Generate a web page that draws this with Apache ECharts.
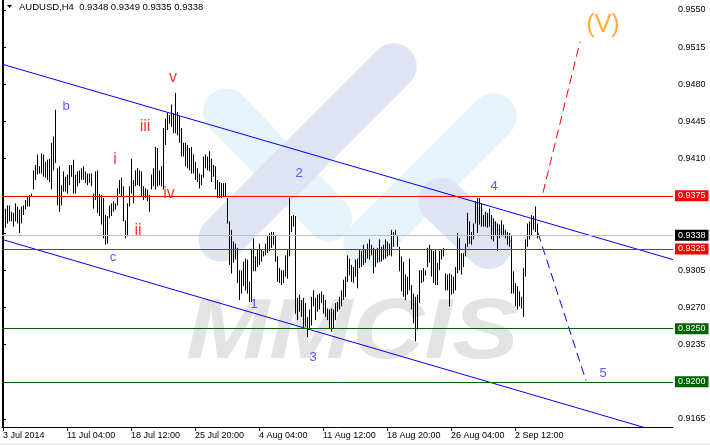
<!DOCTYPE html>
<html><head><meta charset="utf-8">
<script src="https://cdn.jsdelivr.net/npm/echarts@6/dist/echarts.min.js"></script>
<style>html,body{margin:0;padding:0;background:#fff}#c{width:710px;height:445px}</style>
</head><body><div id="c"></div>
<script>
const symbolName = 'AUDUSD,H4';
const lastBar = [0.9348, 0.9349, 0.9335, 0.9338]; // open, high, low, close

const highs = [
0.9359,0.9363,0.9366,0.9366,0.9360,0.9359,0.9368,0.9365,0.9362,0.9365,
0.9366,0.9371,0.9374,0.9376,0.9377,0.9399,0.9404,0.9414,0.9403,0.9415,
0.9414,0.9407,0.9409,0.9410,0.9425,0.9431,0.9456,0.9401,0.9403,0.9385,
0.9398,0.9393,0.9395,0.9404,0.9404,0.9409,0.9395,0.9398,0.9399,0.9401,
0.9403,0.9398,0.9396,0.9396,0.9396,0.9377,0.9398,0.9399,0.9377,0.9376,
0.9373,0.9357,0.9356,0.9366,0.9368,0.9370,0.9368,0.9382,0.9390,0.9392,
0.9384,0.9352,0.9368,0.9384,0.9410,0.9390,0.9399,0.9401,0.9399,0.9398,
0.9384,0.9382,0.9381,0.9376,0.9395,0.9401,0.9421,0.9420,0.9399,0.9403,
0.9439,0.9448,0.9453,0.9451,0.9461,0.9453,0.9472,0.9454,0.9450,0.9439,
0.9425,0.9425,0.9423,0.9420,0.9421,0.9414,0.9407,0.9401,0.9396,0.9395,
0.9412,0.9414,0.9412,0.9417,0.9410,0.9404,0.9403,0.9390,0.9388,0.9387,
0.9387,0.9387,0.9373,0.9351,0.9343,0.9332,0.9330,0.9326,0.9305,0.9305,
0.9313,0.9316,0.9315,0.9294,0.9324,0.9335,0.9318,0.9324,0.9330,0.9324,
0.9323,0.9330,0.9337,0.9340,0.9341,0.9341,0.9338,0.9318,0.9307,0.9305,
0.9305,0.9319,0.9324,0.9373,0.9356,0.9357,0.9356,0.9279,0.9282,0.9277,
0.9279,0.9274,0.9261,0.9268,0.9280,0.9286,0.9279,0.9282,0.9283,0.9285,
0.9282,0.9277,0.9269,0.9268,0.9269,0.9268,0.9274,0.9275,0.9280,0.9286,
0.9296,0.9299,0.9319,0.9316,0.9310,0.9308,0.9315,0.9316,0.9324,0.9323,
0.9329,0.9324,0.9330,0.9334,0.9329,0.9326,0.9324,0.9326,0.9334,0.9327,
0.9329,0.9334,0.9332,0.9330,0.9343,0.9341,0.9343,0.9337,0.9327,0.9318,
0.9313,0.9301,0.9299,0.9316,0.9291,0.9283,0.9280,0.9282,0.9305,0.9305,
0.9307,0.9305,0.9326,0.9329,0.9324,0.9323,0.9324,0.9312,0.9323,0.9324,
0.9326,0.9302,0.9301,0.9302,0.9301,0.9299,0.9308,0.9340,0.9335,0.9321,
0.9321,0.9330,0.9359,0.9351,0.9341,0.9349,0.9370,0.9373,0.9373,0.9368,
0.9357,0.9360,0.9359,0.9363,0.9357,0.9354,0.9351,0.9349,0.9348,0.9352,
0.9348,0.9343,0.9341,0.9340,0.9337,0.9304,0.9293,0.9290,0.9285,0.9280,
0.9307,0.9334,0.9349,0.9351,0.9357,0.9356,0.9365,0.9349
];
const lows = [
0.9345,0.9345,0.9349,0.9351,0.9351,0.9346,0.9351,0.9349,0.9340,0.9349,
0.9357,0.9362,0.9365,0.9365,0.9374,0.9381,0.9390,0.9395,0.9396,0.9396,
0.9393,0.9392,0.9390,0.9388,0.9381,0.9399,0.9406,0.9366,0.9360,0.9366,
0.9379,0.9379,0.9377,0.9385,0.9393,0.9377,0.9377,0.9384,0.9387,0.9390,
0.9390,0.9387,0.9385,0.9387,0.9384,0.9363,0.9371,0.9359,0.9356,0.9348,
0.9335,0.9329,0.9330,0.9354,0.9356,0.9360,0.9362,0.9366,0.9377,0.9374,
0.9351,0.9335,0.9337,0.9365,0.9377,0.9368,0.9384,0.9385,0.9384,0.9374,
0.9371,0.9373,0.9370,0.9360,0.9381,0.9384,0.9381,0.9384,0.9385,0.9384,
0.9381,0.9423,0.9437,0.9443,0.9440,0.9434,0.9434,0.9432,0.9425,0.9412,
0.9412,0.9403,0.9401,0.9399,0.9396,0.9396,0.9390,0.9388,0.9382,0.9385,
0.9392,0.9401,0.9399,0.9398,0.9388,0.9393,0.9381,0.9373,0.9373,0.9373,
0.9374,0.9374,0.9349,0.9310,0.9302,0.9312,0.9315,0.9293,0.9277,0.9283,
0.9290,0.9286,0.9283,0.9275,0.9275,0.9304,0.9304,0.9308,0.9310,0.9313,
0.9318,0.9319,0.9321,0.9323,0.9326,0.9329,0.9313,0.9294,0.9293,0.9291,
0.9293,0.9299,0.9297,0.9318,0.9341,0.9346,0.9264,0.9258,0.9266,0.9261,
0.9250,0.9252,0.9242,0.9249,0.9253,0.9271,0.9258,0.9266,0.9268,0.9274,
0.9264,0.9261,0.9258,0.9250,0.9247,0.9250,0.9258,0.9266,0.9268,0.9271,
0.9277,0.9280,0.9294,0.9300,0.9294,0.9293,0.9299,0.9288,0.9307,0.9308,
0.9310,0.9312,0.9316,0.9315,0.9319,0.9302,0.9308,0.9312,0.9313,0.9313,
0.9315,0.9316,0.9318,0.9319,0.9318,0.9327,0.9337,0.9327,0.9304,0.9285,
0.9280,0.9277,0.9282,0.9286,0.9268,0.9255,0.9238,0.9249,0.9274,0.9293,
0.9294,0.9300,0.9308,0.9312,0.9299,0.9293,0.9291,0.9291,0.9305,0.9315,
0.9318,0.9286,0.9286,0.9271,0.9282,0.9283,0.9286,0.9302,0.9305,0.9301,
0.9308,0.9318,0.9327,0.9330,0.9329,0.9334,0.9349,0.9340,0.9348,0.9346,
0.9346,0.9346,0.9345,0.9346,0.9334,0.9332,0.9338,0.9323,0.9335,0.9337,
0.9337,0.9335,0.9329,0.9327,0.9283,0.9283,0.9271,0.9268,0.9271,0.9269,
0.9261,0.9299,0.9327,0.9334,0.9337,0.9343,0.9341,0.9335
];

const timeTickBars = [0, 32, 64, 96, 128, 160, 192, 224, 256];
const timeTickLabels = ['3 Jul 2014', '11 Jul 04:00', '18 Jul 12:00', '25 Jul 20:00', '4 Aug 04:00', '11 Aug 12:00', '18 Aug 20:00', '26 Aug 04:00', '2 Sep 12:00'];
const priceTicks = [0.9165, 0.9200, 0.9235, 0.9270, 0.9305, 0.9340, 0.9375, 0.9410, 0.9445, 0.9480, 0.9515, 0.9550];
const priceLabelsShown = [0.9165, 0.9235, 0.9270, 0.9305, 0.9410, 0.9445, 0.9480, 0.9515, 0.9550];

const resistanceLevels = [0.9375, 0.9325];
const supportLevels = [0.9250, 0.9200];
const bidLevel = 0.9338;

const channelUpper = [[-0.5, 0.9499], [335, 0.9315]];
const channelLower = [[-0.5, 0.9334], [335, 0.9149]];
const projectionUp = [[270, 0.9378], [288.5, 0.9520]];
const projectionDown = [[267.5, 0.9340], [291.5, 0.9201]];

const subWaveLabels = [[56, 0.9409, 'i'], [67.5, 0.9342, 'ii'], [71, 0.9440, 'iii'], [83, 0.9377, 'iv'], [85, 0.9486, 'v']];
const waveLabels = [[31.5, 0.9459, 'b'], [55, 0.9317, 'c'], [125.5, 0.9273, '1'], [148, 0.9396, '2'], [155, 0.9223, '3'], [245.5, 0.9384, '4'], [300, 0.9208, '5']];
const majorWaveLabels = [[300, 0.9536, '(V)']];

const FONT = '"Liberation Sans", Arial, sans-serif';
const chart = echarts.init(document.getElementById('c'), null, {renderer: 'canvas'});

function band(x1, y1, x2, y2, w, color) {
  const dx = x2 - x1, dy = y2 - y1;
  const L = Math.sqrt(dx * dx + dy * dy);
  return {
    type: 'rect', x: (x1 + x2) / 2, y: (y1 + y2) / 2, rotation: -Math.atan2(dy, dx),
    shape: {x: -L / 2, y: -w / 2, width: L, height: w, r: w / 2},
    style: {fill: color}, z: -5, silent: true
  };
}
const LB = '#e6f3fb', LV = '#dfe4f5';

const barData = highs.map((h, i) => [i, h, lows[i]]);

function labelSeries(name, data, color, size) {
  return {
    type: 'scatter', name, data, symbolSize: 1, silent: true,
    itemStyle: {color: 'rgba(0,0,0,0)'},
    label: {show: true, position: 'inside', formatter: p => p.data[2], color, fontSize: size, fontFamily: FONT},
    z: 6
  };
}

function levelLine(v, lineColor, boxColor) {
  return {
    yAxis: v,
    lineStyle: {color: lineColor, width: 1, type: 'solid'},
    label: {show: true, position: 'end', distance: 2, formatter: p => Number(p.value).toFixed(4),
      color: '#fff', backgroundColor: boxColor, padding: [1, 3, 0, 3], fontSize: 9, lineHeight: 10, fontFamily: FONT}
  };
}

const option = {
  animation: false,
  backgroundColor: '#fff',
  graphic: [
    band(210, 95, 345, 235, 46, LB),
    band(510, 100, 350, 260, 46, LB),
    band(205, 255, 410, 50, 46, LV),
    band(425, 185, 505, 262, 46, LV),
    {type: 'text', x: 186, y: 334, scaleX: 1.16, z: -4, silent: true,
      style: {text: 'MMCIS', font: 'italic bold 86px ' + FONT, fill: '#e3e3e3', textVerticalAlign: 'middle'}},
    {type: 'polygon', shape: {points: [[7, 5], [12, 5], [9.5, 8]]}, style: {fill: '#000'}},
    {type: 'text', x: 19, y: 7, style: {text: symbolName + '  ' + lastBar.map(v => v.toFixed(4)).join(' '),
      font: '9.5px ' + FONT, fill: '#000', textVerticalAlign: 'middle'}},
    {type: 'rect', shape: {x: 0, y: 443, width: 710, height: 2}, style: {fill: '#f0f0f0'}}
  ],
  grid: {left: 2, right: 37, top: 0, bottom: 18, containLabel: false},
  xAxis: {
    type: 'value', min: -0.5, max: 335,
    axisLine: {show: true, lineStyle: {color: '#000', width: 1}},
    axisTick: {show: true, customValues: timeTickBars, length: 4, lineStyle: {color: '#000'}},
    axisLabel: {customValues: timeTickBars, formatter: v => timeTickLabels[timeTickBars.indexOf(v)],
      align: 'left', margin: 4, fontSize: 9, color: '#000', fontFamily: FONT},
    splitLine: {show: false}
  },
  yAxis: [{
    type: 'value', position: 'right', min: 0.91574, max: 0.95594, scale: true,
    axisLine: {show: true, lineStyle: {color: '#000', width: 1}},
    axisTick: {show: true, customValues: priceTicks, length: 3, lineStyle: {color: '#000'}},
    axisLabel: {customValues: priceLabelsShown, formatter: v => v.toFixed(4), margin: 5, fontSize: 9, color: '#000', fontFamily: FONT},
    splitLine: {show: false}
  }, {
    type: 'value', position: 'left', min: 0.91574, max: 0.95594, scale: true,
    axisLine: {show: true, lineStyle: {color: '#000', width: 1}},
    axisTick: {show: false}, axisLabel: {show: false}, splitLine: {show: false}
  }],
  series: [
    {
      type: 'line', name: 'Channel upper', data: channelUpper, symbol: 'none', silent: true,
      lineStyle: {color: '#0000ff', width: 1}, z: 4,
      markLine: {
        silent: true, symbol: 'none', animation: false, precision: 4,
        data: [
          levelLine(bidLevel, '#c0c0c0', '#000000'),
          levelLine(resistanceLevels[0], '#ff0000', '#ff0000'),
          levelLine(resistanceLevels[1], '#ff0000', '#ff0000'),
          levelLine(supportLevels[0], '#006400', '#006400'),
          levelLine(supportLevels[1], '#006400', '#006400')
        ]
      }
    },
    {type: 'line', name: 'Channel lower', data: channelLower, symbol: 'none', silent: true,
      lineStyle: {color: '#0000ff', width: 1}, z: 4},
    {type: 'line', name: 'Wave (V) projection', data: projectionUp, symbol: 'none', silent: true,
      lineStyle: {color: '#ff0000', width: 1, type: [9, 5]}, z: 4},
    {type: 'line', name: 'Wave 5 projection', data: projectionDown, symbol: 'none', silent: true,
      lineStyle: {color: '#0000ff', width: 1, type: [9, 5]}, z: 4},
    {
      type: 'custom', name: 'AUDUSD H4', data: barData, silent: true, z: 3,
      encode: {x: 0, y: [1, 2]},
      renderItem: function (params, api) {
        const i = api.value(0);
        const top = api.coord([i, api.value(1)]);
        const bot = api.coord([i, api.value(2)]);
        const x = Math.round(top[0]) + 0.5;
        return {type: 'line', shape: {x1: x, y1: top[1], x2: x, y2: bot[1]}, style: {stroke: '#000', lineWidth: 1}};
      }
    },
    labelSeries('Sub-waves', subWaveLabels, '#ff0000', 16),
    labelSeries('Waves', waveLabels, '#3030ff', 13),
    labelSeries('Major wave', majorWaveLabels, '#ff9900', 25)
  ]
};
chart.setOption(option);
</script></body></html>
